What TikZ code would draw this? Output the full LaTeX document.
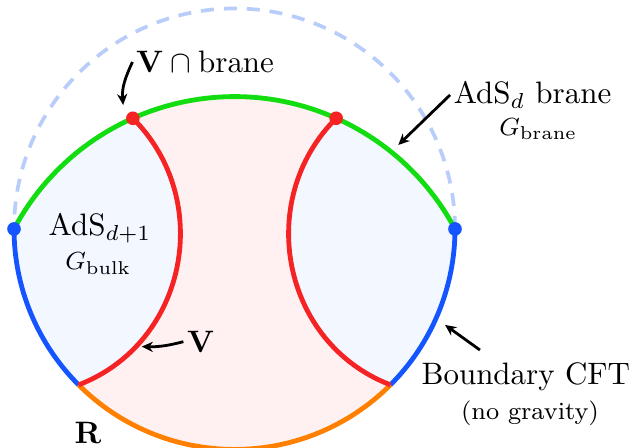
\documentclass[tikz,border=0pt]{standalone}
\usepackage{tikz}
\usetikzlibrary{arrows.meta, calc}
\usepackage{amsmath}
\definecolor{branegreen}{RGB}{17, 221, 17}
\definecolor{rtred}{RGB}{245, 35, 35}
\definecolor{cftblue}{RGB}{20, 85, 255}
\definecolor{regorange}{RGB}{255, 128, 0}
\definecolor{bulkfill}{RGB}{243, 247, 255}
\definecolor{islefill}{RGB}{255, 241, 241}
\definecolor{ghostblue}{RGB}{185, 205, 250}

\begin{document}
\begin{tikzpicture}
            \tikzstyle{curve} = [line width=1.55pt]
            \tikzstyle{arrow} = [line width=0.9pt,-{Stealth[length=3.6pt,width=3.3pt]},black]
            \tikzstyle{lbl} = [inner sep=1pt]
            \tikzstyle{pt} = [circle, inner sep=0pt, minimum size=4.4pt]
            
            \useasboundingbox (-2.659,-2.483) rectangle (4.507,2.596);
            
            % end points on the boundary and on the brane
            \coordinate (L) at (180:2.5);
            \coordinate (Rt) at (0:2.5);
            \coordinate (P1) at ($(0,-4/3)+(114:2.8333)$);
            \coordinate (P2) at ($(0,-4/3)+(66:2.8333)$);
            \coordinate (Q1) at (225:2.5);
            \coordinate (Q2) at (-45:2.5);
            
            % regions
            \fill[bulkfill] (L) arc[start angle=151.93, end angle=114, radius=2.8333]
                to[out=-45, in=21, looseness=1.09] (Q1)
                arc[start angle=225, end angle=180, radius=2.5] -- cycle;
            \fill[bulkfill] (Rt) arc[start angle=28.07, end angle=66, radius=2.8333]
                to[out=-135, in=159, looseness=1.09] (Q2)
                arc[start angle=-45, end angle=0, radius=2.5] -- cycle;
            \fill[islefill] (P1) arc[start angle=114, end angle=66, radius=2.8333]
                to[out=-135, in=159, looseness=1.09] (Q2)
                arc[start angle=-45, end angle=-135, radius=2.5]
                to[out=21, in=-45, looseness=1.09] (P1);
            
            % old boundary
            \draw[ghostblue, line width=1.2pt, dash pattern=on 4.2pt off 3.2pt] (Rt) arc[start angle=0, end angle=180, radius=2.5];
            
            \draw[curve, cftblue] (L) arc[start angle=180, end angle=225, radius=2.5];
            \draw[curve, cftblue] (Q2) arc[start angle=-45, end angle=0, radius=2.5];
            \draw[curve, regorange] (Q1) arc[start angle=225, end angle=315, radius=2.5];
            \draw[curve, rtred] (P1) to[out=-45, in=21, looseness=1.09] (Q1);
            \draw[curve, rtred] (P2) to[out=-135, in=159, looseness=1.09] (Q2);
            \draw[curve, branegreen] (L) arc[start angle=151.93, end angle=28.07, radius=2.8333];
            
            \node[pt, fill=cftblue] (dl) at (L) {};
            \node[pt, fill=cftblue] (dr) at (Rt) {};
            \node[pt, fill=rtred] (d1) at (P1) {};
            \node[pt, fill=rtred] (d2) at (P2) {};
            
            % labels
            \node[lbl] (vcap) at (-0.334,1.893) {$\mathbf{V}\cap\mathrm{brane}$};
            \node[lbl] (brane) at (3.379,1.519) {AdS$_d$ brane};
            \node[lbl, font=\footnotesize] (gbrane) at (3.444,1.134) {$G_{\mathrm{brane}}$};
            \node[lbl] (bulk) at (-1.525,0.011) {AdS$_{d+1}$};
            \node[lbl, font=\footnotesize] (gbulk) at (-1.544,-0.393) {$G_{\mathrm{bulk}}$};
            \node[lbl] (vlab) at (-0.382,-1.278) {$\mathbf{V}$};
            \node[lbl] (bcft) at (3.303,-1.675) {Boundary CFT};
            \node[lbl, font=\footnotesize] (nograv) at (3.350,-2.090) {(no gravity)};
            \node[lbl] (rlab) at (-1.661,-2.307) {$\mathbf{R}$};
            
            \coordinate (t1) at ($(P1)+(-0.11,0.15)$);
            \coordinate (t2) at (1.857,0.952);
            \coordinate (t3) at (-1.052,-1.334);
            \coordinate (t4) at (2.387,-1.088);
            
            \draw[arrow] (vcap.west) to[out=-115, in=95] (t1);
            \draw[arrow] (brane.west) -- (t2);
            \draw[arrow] (vlab.west) to[bend left=8] (t3);
            \draw[arrow] ([xshift=-0.52cm, yshift=0.1cm]bcft.north) -- (t4);
        \end{tikzpicture}
\end{document}
